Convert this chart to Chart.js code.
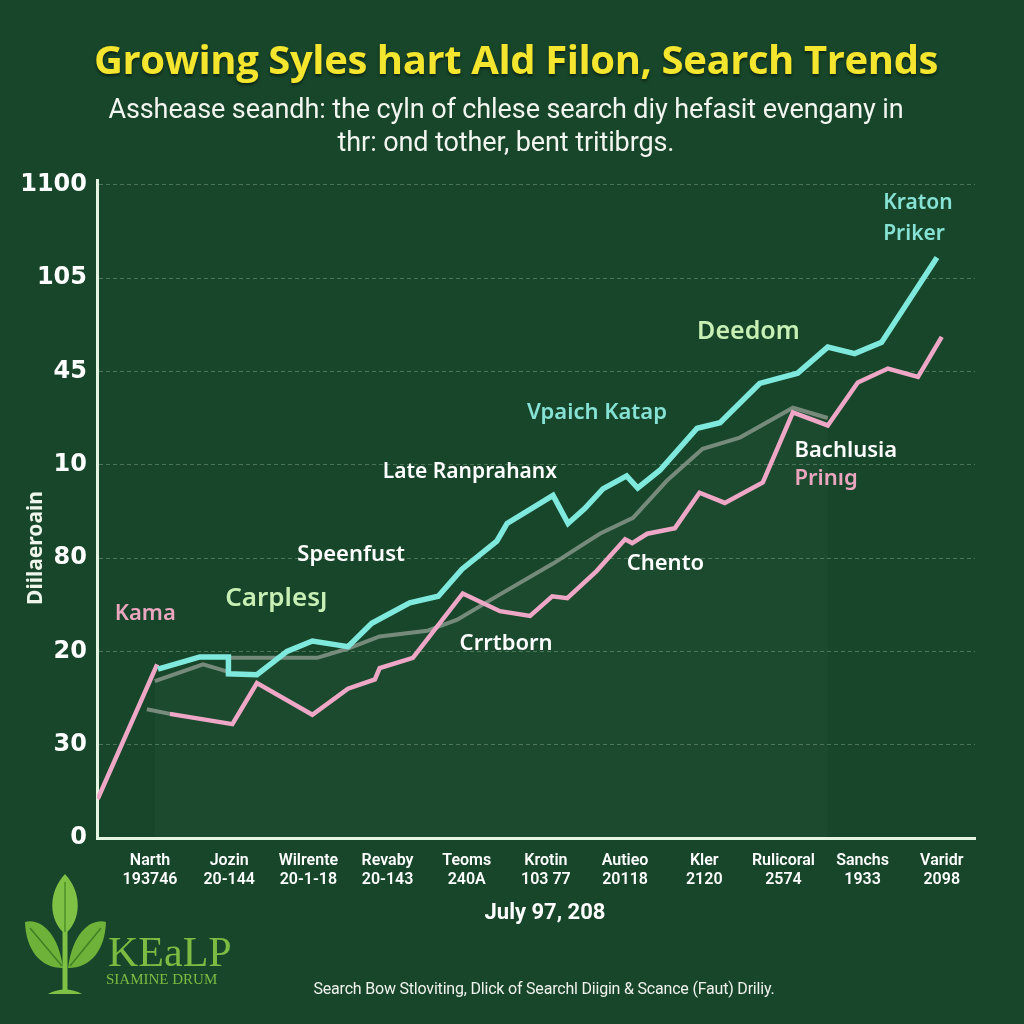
<!DOCTYPE html>
<html>
<head>
<meta charset="utf-8">
<script src="https://cdn.jsdelivr.net/npm/chart.js@4.4.1/dist/chart.umd.min.js"></script>
<style>
    html, body { margin: 0; padding: 0; background: #17462a; }
    #wrap { position: relative; width: 1024px; height: 1024px; overflow: hidden; background: #17462a; }
    #chart { position: absolute; left: 0; top: 0; }
    .title { position: absolute; top: 31px; left: 0; width: 1032px; text-align: center; color: #f4e52e;
             font: 700 40px "Open Sans", sans-serif; text-shadow: 0 2px 3px rgba(0,0,0,0.5); letter-spacing: -0.4px; }
    .sub { position: absolute; top: 93px; left: 0; width: 1012px; text-align: center; color: #f2f5f0;
           font: 400 27px Roboto, sans-serif; line-height: 33px; letter-spacing: -0.1px; }
    .date { position: absolute; top: 899px; left: 0; width: 1090px; text-align: center; color: #fff;
            font: 700 22px "Liberation Sans Narrow", Roboto, sans-serif; }
    .foot { position: absolute; top: 979px; left: 0; width: 1088px; text-align: center; color: #f0f2ee;
            font: 400 16px Roboto, sans-serif; letter-spacing: -0.2px; }
    .logo { position: absolute; left: 18px; top: 868px; }
</style>
</head>
<body>
<div id="wrap">
    <canvas id="chart" width="1024" height="1024"></canvas>
    <div class="title">Growing Syles hart Ald Filon, Search Trends</div>
    <div class="sub">Asshease seandh: the cyln of chlese search diy hefasit evengany in<br>thr: ond tother, bent tritibrgs.</div>
    <div class="date">July 97, 208</div>
    <div class="foot">Search Bow Stloviting, Dlick of Searchl Diigin &amp; Scance (Faut) Driliy.</div>
    <svg class="logo" width="240" height="135" viewBox="0 0 240 135">
        <path d="M47 6 C30 24 30 52 47 66 C64 52 64 24 47 6 Z" fill="#7fc144"/>
        <path d="M47 14 L47 64" stroke="#4e8f2a" stroke-width="1.5"/>
        <path d="M7 54 C20 50 40 62 45 100 C22 100 8 82 7 54 Z" fill="#6fb23a"/>
        <path d="M12 60 L44 98" stroke="#3f7f24" stroke-width="1.5"/>
        <path d="M88 54 C75 50 55 62 50 100 C73 100 87 82 88 54 Z" fill="#6fb23a"/>
        <path d="M83 60 L52 98" stroke="#3f7f24" stroke-width="1.5"/>
        <path d="M47 64 L47 122" stroke="#7fc144" stroke-width="5"/>
        <path d="M30 126 C40 120 54 120 64 126 Z" fill="#7fc144"/>
        <text x="90" y="98" fill="#7cbc42" font-family="Liberation Serif, serif" font-size="42">KEaLP</text>
        <text x="88" y="116" fill="#7cbc42" font-family="Liberation Serif, serif" font-size="15">SIAMINE DRUM</text>
    </svg>
</div>
<script>
// axis labels
const yTickLabels = ['0', '30', '20', '80', '10', '45', '105', '1100'];
const xNames = ['Narth', 'Jozin', 'Wilrente', 'Revaby', 'Teoms', 'Krotin', 'Autieo', 'Kler', 'Rulicoral', 'Sanchs', 'Varidr'];
const xCodes = ['193746', '20-144', '20-1-18', '20-143', '240A', '103 77', '20118', '2120', '2574', '1933', '2098'];

// series (x in category steps, y in tick steps)
const cyanX = [0.10, 0.63, 0.99, 0.99, 1.35, 1.73, 2.05, 2.50, 2.80, 3.28, 3.64, 3.94, 4.38, 4.51, 5.09, 5.28, 5.49, 5.72, 6.02, 6.16, 6.44, 6.91, 7.20, 7.70, 8.18, 8.56, 8.90, 9.24, 9.94];
const cyanY = [1.81, 1.94, 1.94, 1.76, 1.75, 2.00, 2.11, 2.05, 2.30, 2.52, 2.59, 2.88, 3.18, 3.37, 3.67, 3.37, 3.53, 3.74, 3.88, 3.75, 3.94, 4.39, 4.45, 4.87, 4.98, 5.26, 5.19, 5.31, 6.22];
const pinkX = [-0.66, 0.09, 0.17, 0.25, 1.04, 1.35, 2.05, 2.50, 2.84, 2.90, 3.32, 3.95, 4.42, 4.80, 5.08, 5.27, 5.64, 6.00, 6.09, 6.28, 6.63, 6.94, 7.26, 7.74, 8.12, 8.56, 8.94, 9.32, 9.70, 10.00];
const pinkY = [0.42, 1.86, null, 1.33, 1.22, 1.66, 1.32, 1.60, 1.70, 1.82, 1.93, 2.62, 2.43, 2.38, 2.59, 2.57, 2.86, 3.20, 3.16, 3.26, 3.32, 3.70, 3.59, 3.81, 4.56, 4.42, 4.88, 5.03, 4.94, 5.37];
const grayX = [0.06, 0.67, 0.99, 0.99, 2.11, 2.50, 2.90, 3.50, 3.88, 4.42, 5.09, 5.68, 6.10, 6.53, 6.98, 7.45, 8.12, 8.56];
const grayY = [1.68, 1.86, 1.78, 1.93, 1.93, 2.03, 2.16, 2.22, 2.34, 2.61, 2.94, 3.26, 3.43, 3.83, 4.17, 4.29, 4.61, 4.50];
const stubX = [-0.04, 0.25];
const stubY = [1.38, 1.33];

// callouts
const noteText = ['Kama', 'Carplesȷ', 'Speenfust', 'Late Ranprahanx', 'Vpaich Katap', 'Deedom', 'Kraton', 'Priker', 'Bachlusia', 'Prinıg', 'Chento', 'Crrtborn'];
const noteX = [-0.06, 0.95, 1.86, 2.94, 4.76, 6.91, 9.26, 9.26, 8.14, 8.14, 6.02, 3.91];
const noteY = [2.40, 2.56, 3.04, 3.92, 4.56, 5.42, 6.80, 6.47, 4.15, 3.85, 2.94, 2.08];
const noteColor = ['#eaa6bf', '#c9f0b4', '#ffffff', '#ffffff', '#86e2d4', '#c9f0b4', '#86e2d4', '#86e2d4', '#ffffff', '#eaa6bf', '#ffffff', '#ffffff'];
const noteSize = [22, 26, 22, 21, 22, 25, 21, 21, 22, 22, 22, 22];
const noteAlign = ['center', 'left', 'left', 'left', 'left', 'left', 'left', 'left', 'left', 'left', 'left', 'left'];

const pts = (xs, ys) => xs.map((x, i) => ({ x: x, y: ys[i] }));
const tickValues = arr => arr.map((_, i) => ({ value: i }));

const notesPlugin = {
    id: 'notes',
    afterDatasetsDraw(chart) {
        const ctx = chart.ctx;
        const xs = chart.scales.x, ys = chart.scales.y;
        ctx.save();
        ctx.textBaseline = 'middle';
        noteText.forEach((t, i) => {
            ctx.font = `600 ${noteSize[i]}px "Noto Sans", "Open Sans", sans-serif`;
            ctx.fillStyle = noteColor[i];
            ctx.textAlign = noteAlign[i];
            ctx.fillText(t, xs.getPixelForValue(noteX[i]), ys.getPixelForValue(noteY[i]));
        });
        // y axis title
        ctx.translate(36, 548);
        ctx.rotate(-Math.PI / 2);
        ctx.textAlign = 'center';
        ctx.font = '700 21px "Noto Sans", sans-serif';
        ctx.fillStyle = '#eef5ea';
        ctx.fillText('Diilaeroain', 0, 0);
        ctx.restore();
    }
};

new Chart(document.getElementById('chart'), {
    type: 'line',
    data: {
        datasets: [
            { data: pts(cyanX, cyanY), borderColor: '#7fe9de', borderWidth: 5.5, order: 1 },
            { data: pts(pinkX, pinkY), borderColor: '#eea7c6', borderWidth: 4.5, order: 2 },
            { data: pts(grayX, grayY), borderColor: 'rgba(150,162,150,0.75)', borderWidth: 4, order: 3,
              fill: 'origin', backgroundColor: 'rgba(255,255,255,0.025)' },
            { data: pts(stubX, stubY), borderColor: 'rgba(150,162,150,0.75)', borderWidth: 4, order: 4 }
        ]
    },
    options: {
        responsive: false,
        animation: false,
        spanGaps: false,
        elements: { point: { radius: 0 }, line: { tension: 0, borderJoinStyle: 'miter' } },
        layout: { padding: { top: 180, left: 0, right: 49, bottom: 126 } },
        plugins: { legend: { display: false }, tooltip: { enabled: false } },
        scales: {
            x: {
                type: 'linear', min: -0.67, max: 10.42,
                afterBuildTicks: s => { s.ticks = tickValues(xNames); },
                afterFit: s => { s.height = 60; },
                grid: { display: false },
                border: { color: '#e6f4e2', width: 3 },
                ticks: {
                    color: '#ffffff', padding: 6, maxRotation: 0, autoSkip: false,
                    font: { family: '"Liberation Sans Narrow", Roboto, sans-serif', size: 16, weight: '600', lineHeight: 1.15 },
                    callback: v => [xNames[v], xCodes[v]]
                }
            },
            y: {
                type: 'linear', min: 0, max: 7.05,
                afterBuildTicks: s => { s.ticks = tickValues(yTickLabels); },
                afterFit: s => { s.width = 97; },
                grid: { color: c => c.tick && c.tick.value === 0 ? 'rgba(0,0,0,0)' : 'rgba(210,235,205,0.28)', lineWidth: 1, drawTicks: false },
                border: { color: '#e6f4e2', width: 3, dash: [4, 3] },
                ticks: {
                    color: '#ffffff', padding: 10,
                    font: { family: '"DejaVu Sans", sans-serif', size: 24, weight: 'bold' },
                    callback: v => yTickLabels[v]
                }
            }
        }
    },
    plugins: [notesPlugin]
});
</script>
</body>
</html>
